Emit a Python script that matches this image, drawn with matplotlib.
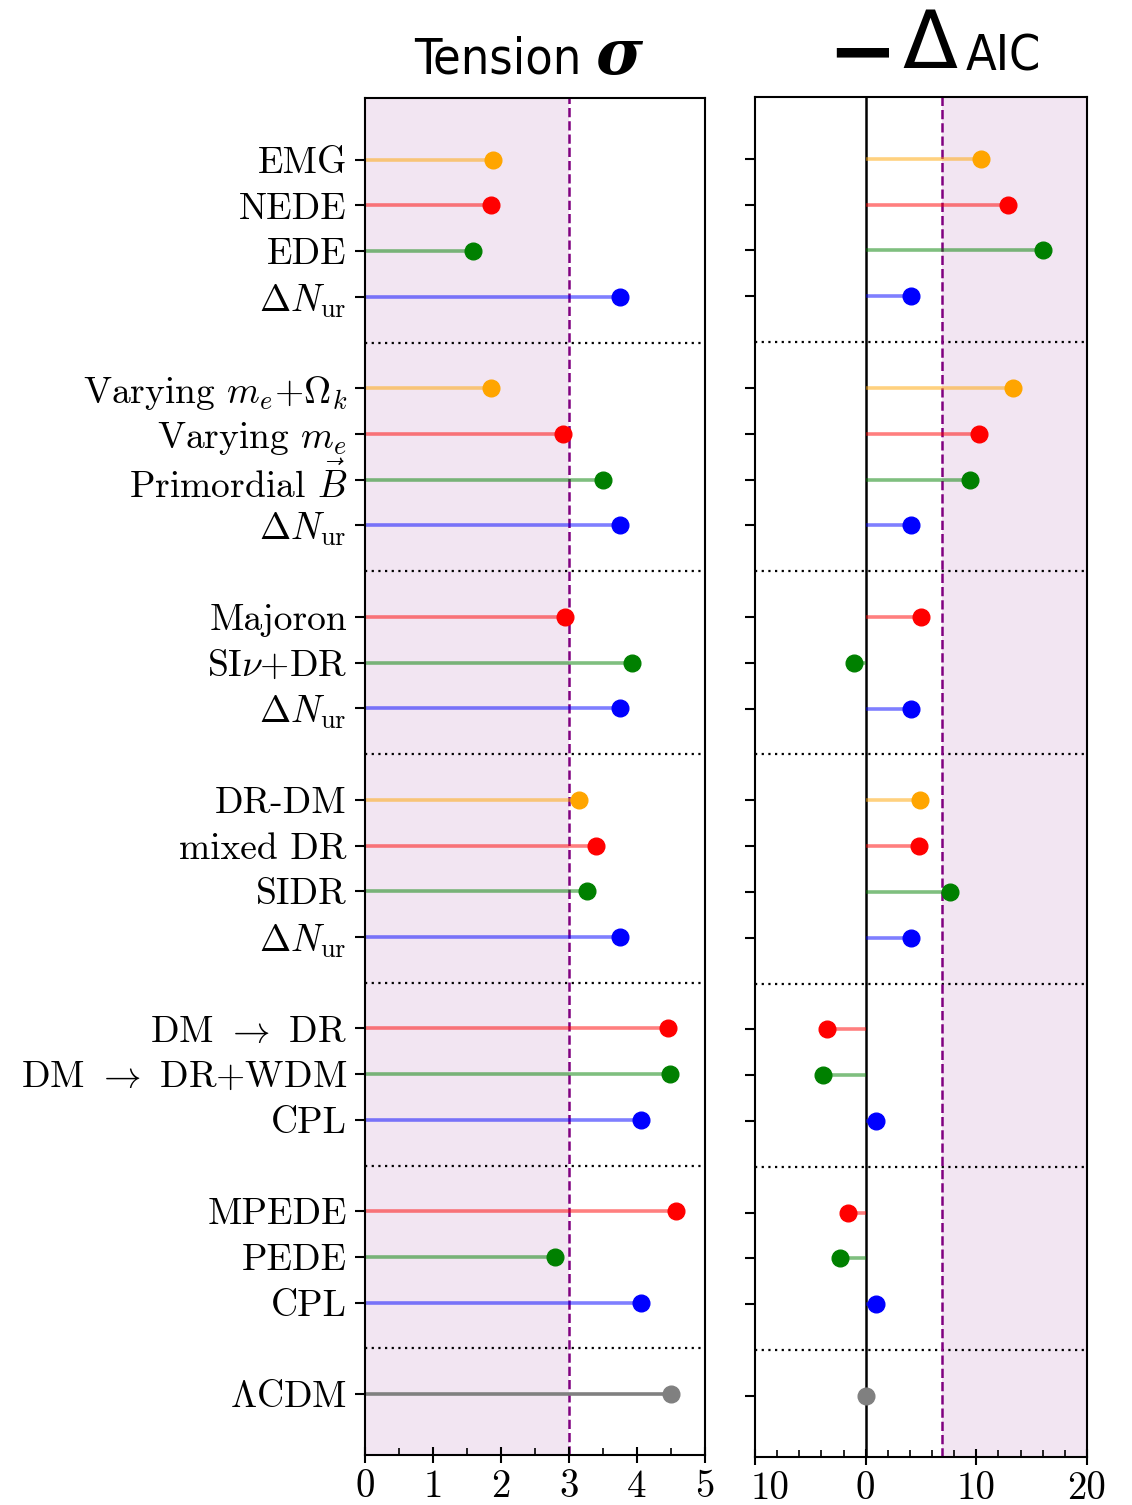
import matplotlib
matplotlib.use("Agg")
import matplotlib.pyplot as plt
import matplotlib.transforms as mtransforms
from matplotlib.ticker import MultipleLocator

plt.rcParams['font.family'] = 'serif'
plt.rcParams['font.serif'] = ['cmr10', 'DejaVu Serif']
plt.rcParams['mathtext.fontset'] = 'cm'
plt.rcParams['axes.unicode_minus'] = False

# rows top to bottom, None = group separator
labels = ['EMG', 'NEDE', 'EDE', r'$\Delta N_{\rm ur}$', None,
          r'Varying $m_e$+$\Omega_k$', r'Varying $m_e$', r'Primordial $\vec{B}$', r'$\Delta N_{\rm ur}$', None,
          'Majoron', r'SI$\nu$+DR', r'$\Delta N_{\rm ur}$', None,
          'DR-DM', 'mixed DR', 'SIDR', r'$\Delta N_{\rm ur}$', None,
          r'DM $\rightarrow$ DR', r'DM $\rightarrow$ DR+WDM', 'CPL', None,
          'MPEDE', 'PEDE', 'CPL', None,
          r'$\Lambda$CDM']
colors = ['orange', 'red', 'green', 'blue', None,
          'orange', 'red', 'green', 'blue', None,
          'red', 'green', 'blue', None,
          'orange', 'red', 'green', 'blue', None,
          'red', 'green', 'blue', None,
          'red', 'green', 'blue', None,
          'gray']
tension = [1.88, 1.85, 1.59, 3.75, None,
           1.85, 2.91, 3.50, 3.75, None,
           2.94, 3.93, 3.75, None,
           3.15, 3.40, 3.26, 3.75, None,
           4.46, 4.49, 4.06, None,
           4.57, 2.79, 4.06, None,
           4.50]
daic = [10.4, 12.9, 16.0, 4.1, None,
        13.3, 10.2, 9.4, 4.1, None,
        5.0, -1.1, 4.1, None,
        4.9, 4.8, 7.6, 4.1, None,
        -3.5, -3.9, 0.9, None,
        -1.6, -2.3, 0.9, None,
        0.0]
sigma_cut = 3.0
aic_cut = 6.9

fig = plt.figure(figsize=(11.32, 15.05), dpi=100)
ax1 = fig.add_axes([0.3224, 0.0332, 0.3004, 0.9017])
ax2 = fig.add_axes([0.6670, 0.0320, 0.2932, 0.9036])

rows = list(range(len(labels)))
label_rows = [i for i in rows if labels[i] is not None]
sep_rows = [i for i in rows if labels[i] is None]


def draw(ax, vals):
    for i in label_rows:
        c = colors[i]
        a = 1.0 if c == 'gray' else 0.5
        ax.plot([0, vals[i]], [i, i], color=c, lw=2.6, alpha=a, solid_capstyle='butt', zorder=2)
        ax.plot(vals[i], i, 'o', color=c, ms=12, zorder=3)
    for i in sep_rows:
        ax.axhline(i, color='black', ls=(0, (1, 2)), lw=1.6, zorder=1)
    ax.set_ylim(28.33, -1.35)
    ax.set_yticks(label_rows)
    for s in ax.spines.values():
        s.set_linewidth(1.5)
    ax.tick_params(axis='y', which='major', length=7, width=1.5, labelsize=27, pad=6)
    ax.tick_params(axis='x', which='major', direction='inout', length=12, width=1.5,
                   labelsize=28, pad=4)
    ax.tick_params(axis='x', which='minor', direction='in', length=5, width=1.2)


draw(ax1, tension)
ax1.axvspan(0, sigma_cut, color='purple', alpha=0.1, lw=0, zorder=0)
ax1.axvline(sigma_cut, color='purple', ls='--', lw=1.8, zorder=1)
ax1.set_xlim(0, 5)
ax1.set_xticks([0, 1, 2, 3, 4, 5])
ax1.xaxis.set_minor_locator(MultipleLocator(0.5))
ax1.set_yticklabels([labels[i] for i in label_rows])

draw(ax2, daic)
ax2.axvline(0, color='black', lw=1.8, zorder=1)
ax2.axvspan(aic_cut, 20, color='purple', alpha=0.1, lw=0, zorder=0)
ax2.axvline(aic_cut, color='purple', ls='--', lw=1.8, zorder=1)
ax2.set_xlim(-10, 20)
ax2.set_xticks([-10, 0, 10, 20])
ax2.set_xticklabels(['10', '0', '10', '20'])
ax2.xaxis.set_minor_locator(MultipleLocator(2))
ax2.set_yticklabels([])
lab0 = ax2.get_xticklabels()[0]
lab0.set_transform(lab0.get_transform() + mtransforms.ScaledTranslation(0.15, 0, fig.dpi_scale_trans))

fig.text(0.366, 0.951, 'Tension', fontsize=36, family='DejaVu Sans', stretch='condensed',
         va='baseline')
fig.text(0.526, 0.951, '\u03c3', fontsize=46, family='DejaVu Serif', weight='bold',
         style='italic', va='baseline')
fig.text(0.731, 0.948, '\u2212', fontsize=60, family='DejaVu Sans', weight='bold', va='baseline')
fig.text(0.797, 0.955, '\u0394', fontsize=58, family='DejaVu Sans', va='baseline')
fig.text(0.853, 0.953, 'AIC', fontsize=36, family='DejaVu Sans', stretch='condensed',
         va='baseline')

fig.savefig('out.png', dpi=100)
